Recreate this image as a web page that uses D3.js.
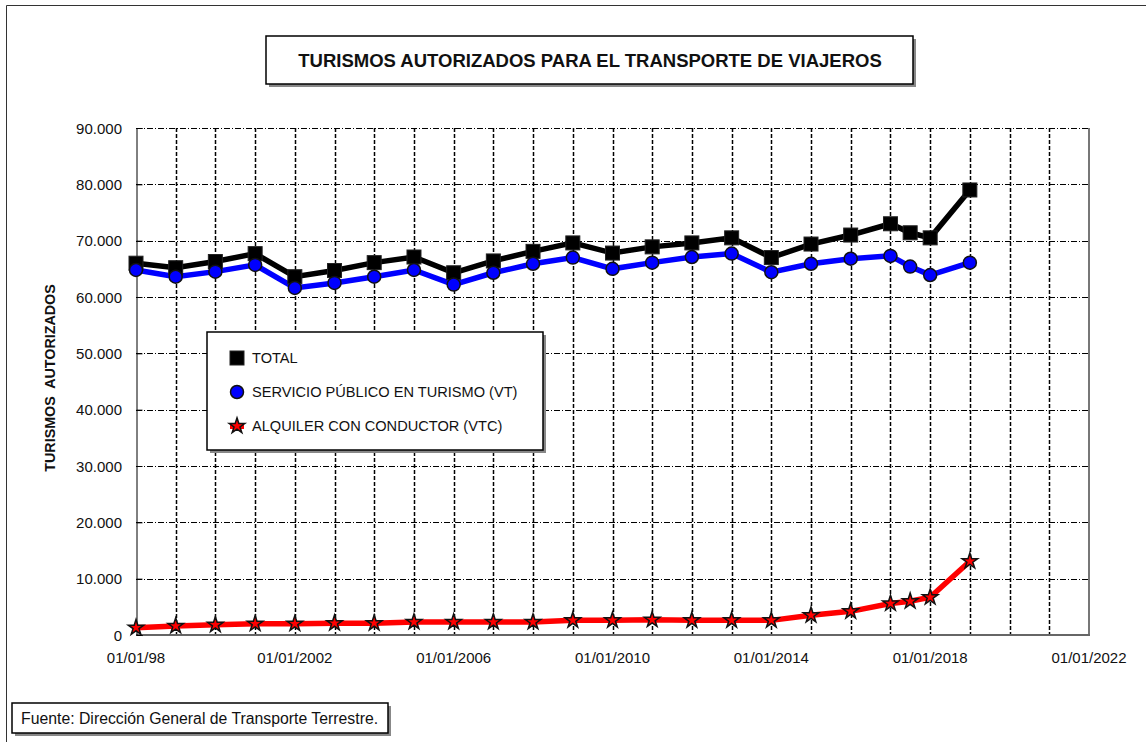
<!DOCTYPE html>
<html>
<head>
<meta charset="utf-8">
<script src="https://cdn.jsdelivr.net/npm/d3@7"></script>
<style>
  body { margin: 0; background: #fff; }
  text { font-family: "Liberation Sans", Arial, sans-serif; fill: #111; }
</style>
</head>
<body>
<svg></svg>
<script>
// fechas de los datos (1 de enero de cada año, y un punto intermedio en 2017)
const dates = ["1998-01-01", "1999-01-01", "2000-01-01", "2001-01-01", "2002-01-01", "2003-01-01",
    "2004-01-01", "2005-01-01", "2006-01-01", "2007-01-01", "2008-01-01", "2009-01-01", "2010-01-01",
    "2011-01-01", "2012-01-01", "2013-01-01", "2014-01-01", "2015-01-01", "2016-01-01", "2017-01-01",
    "2017-07-01", "2018-01-01", "2019-01-01"];
const total = [66000, 65200, 66300, 67700, 63600, 64700, 66100, 67100, 64300, 66400, 68100, 69600,
    67800, 68900, 69600, 70500, 67000, 69400, 71000, 73000, 71400, 70500, 79000];
const vt = [64800, 63600, 64500, 65700, 61600, 62500, 63600, 64800, 62200, 64300, 65900, 67000,
    65000, 66100, 67100, 67700, 64400, 65900, 66800, 67300, 65400, 63900, 66100];
const vtc = [1300, 1600, 1800, 2000, 2000, 2100, 2100, 2300, 2300, 2300, 2300, 2600,
    2600, 2700, 2600, 2600, 2600, 3500, 4200, 5600, 6000, 6700, 13100];

const yTicks = [0, 10000, 20000, 30000, 40000, 50000, 60000, 70000, 80000, 90000];
const xLabelDates = ["1998-01-01", "2002-01-01", "2006-01-01", "2010-01-01", "2014-01-01", "2018-01-01", "2022-01-01"];
const xLabels = ["01/01/98", "01/01/2002", "01/01/2006", "01/01/2010", "01/01/2014", "01/01/2018", "01/01/2022"];

const series = [
    { name: "TOTAL", values: total, color: "#000000", marker: "square" },
    { name: "SERVICIO PÚBLICO EN TURISMO (VT)", values: vt, color: "#0000ff", marker: "circle" },
    { name: "ALQUILER CON CONDUCTOR (VTC)", values: vtc, color: "#ff0000", marker: "star" }
];

const W = 1146, H = 742;
const svg = d3.select("svg").attr("width", W).attr("height", H);
const parse = d3.timeParse("%Y-%m-%d");

const pLeft = 136, pRight = 1089, pTop = 128, pBottom = 635;

const x = d3.scaleTime()
    .domain([parse("1998-01-01"), parse("2022-01-01")])
    .range([pLeft, pRight]);
const y = d3.scaleLinear().domain([0, 90000]).range([pBottom, pTop]);

// marco exterior
svg.append("path")
    .attr("d", `M6.5,${H} V5.5 H${W}`)
    .attr("fill", "none").attr("stroke", "#333").attr("stroke-width", 1);

// caja con sombra
function shadowBox(x0, y0, w, h) {
    svg.append("rect").attr("x", x0 + 3).attr("y", y0 + 3).attr("width", w).attr("height", h)
        .attr("fill", "#888");
    svg.append("rect").attr("x", x0).attr("y", y0).attr("width", w).attr("height", h)
        .attr("fill", "#fff").attr("stroke", "#000").attr("stroke-width", 1.5);
}

// título
shadowBox(266, 36, 647, 48);
svg.append("text")
    .attr("x", 590).attr("y", 67)
    .attr("text-anchor", "middle")
    .style("font-size", "18.5px").style("font-weight", "bold")
    .text("TURISMOS AUTORIZADOS PARA EL TRANSPORTE DE VIAJEROS");

// rejilla vertical (cada año)
const years = d3.timeYear.range(parse("1999-01-01"), parse("2022-01-01"));
svg.append("g").selectAll("line")
    .data(years)
    .join("line")
    .attr("x1", d => Math.round(x(d)) + 0.5).attr("x2", d => Math.round(x(d)) + 0.5)
    .attr("y1", pTop).attr("y2", pBottom)
    .attr("stroke", "#000").attr("stroke-width", 1.5)
    .attr("stroke-dasharray", "4,2");

// rejilla horizontal
svg.append("g").selectAll("line")
    .data(yTicks.slice(1))
    .join("line")
    .attr("x1", pLeft).attr("x2", pRight)
    .attr("y1", d => Math.round(y(d)) + 0.5).attr("y2", d => Math.round(y(d)) + 0.5)
    .attr("stroke", "#000").attr("stroke-width", 1)
    .attr("stroke-dasharray", "6,2,1,2");

// bordes del área de trazado
svg.append("line").attr("x1", pRight).attr("x2", pRight).attr("y1", pTop).attr("y2", pBottom + 1)
    .attr("stroke", "#777").attr("stroke-width", 2);
svg.append("line").attr("x1", pLeft).attr("x2", pRight + 1).attr("y1", pBottom).attr("y2", pBottom)
    .attr("stroke", "#666").attr("stroke-width", 2);

// eje Y
const yAxis = svg.append("g")
    .attr("transform", `translate(${pLeft + 0.5},0)`)
    .call(d3.axisRight(y).tickValues(yTicks).tickSize(6).tickFormat(""));
yAxis.select(".domain").attr("stroke", "#000");
yAxis.selectAll(".tick line").attr("stroke", "#000");

svg.append("g").selectAll("text")
    .data(yTicks)
    .join("text")
    .attr("x", 122).attr("y", d => y(d) + 5.5)
    .attr("text-anchor", "end")
    .style("font-size", "15px")
    .text(d => d === 0 ? "0" : d3.format(",")(d).replace(/,/g, "."));

svg.append("text")
    .attr("transform", `translate(55,378) rotate(-90)`)
    .attr("text-anchor", "middle")
    .style("font-size", "14.3px").style("font-weight", "bold")
    .style("white-space", "pre")
    .text("TURISMOS  AUTORIZADOS");

// etiquetas eje X
svg.append("g").selectAll("text")
    .data(xLabelDates)
    .join("text")
    .attr("x", d => x(parse(d)))
    .attr("y", 663)
    .attr("text-anchor", "middle")
    .style("font-size", "15px")
    .text((d, i) => xLabels[i]);

// marcadores
const star = d3.symbol().type(d3.symbolStar).size(75);
function drawMarker(g, type, color) {
    if (type === "square") {
        g.append("rect").attr("x", -7).attr("y", -7).attr("width", 14).attr("height", 14)
            .attr("fill", "#000").attr("stroke", "#222").attr("stroke-width", 1);
    } else if (type === "circle") {
        g.append("circle").attr("r", 6.5).attr("fill", color).attr("stroke", "#111").attr("stroke-width", 1.5);
    } else {
        g.append("path").attr("d", star()).attr("fill", color).attr("stroke", "#111").attr("stroke-width", 1.5);
    }
}

const line = d3.line()
    .x((d, i) => x(parse(dates[i])))
    .y(d => y(d));

series.forEach(s => {
    svg.append("path")
        .attr("d", line(s.values))
        .attr("fill", "none")
        .attr("stroke", s.color)
        .attr("stroke-width", 5.5);
});
series.forEach(s => {
    s.values.forEach((v, i) => {
        const g = svg.append("g").attr("transform", `translate(${x(parse(dates[i]))},${y(v)})`);
        drawMarker(g, s.marker, s.color);
    });
});

// leyenda
shadowBox(207, 332, 336, 118);
series.forEach((s, i) => {
    const ly = 358 + i * 34;
    if (s.marker === "star") {
        svg.append("rect").attr("x", 230).attr("y", ly - 3).attr("width", 14).attr("height", 6).attr("fill", "#ff0000");
    }
    const g = svg.append("g").attr("transform", `translate(237,${ly})`);
    drawMarker(g, s.marker, s.color);
    svg.append("text")
        .attr("x", 252).attr("y", ly + 5)
        .style("font-size", "14.6px")
        .text(s.name);
});

// fuente
shadowBox(12, 703, 376, 30);
svg.append("text")
    .attr("x", 21).attr("y", 724)
    .style("font-size", "15.8px")
    .text("Fuente: Dirección General de Transporte Terrestre.");
</script>
</body>
</html>
